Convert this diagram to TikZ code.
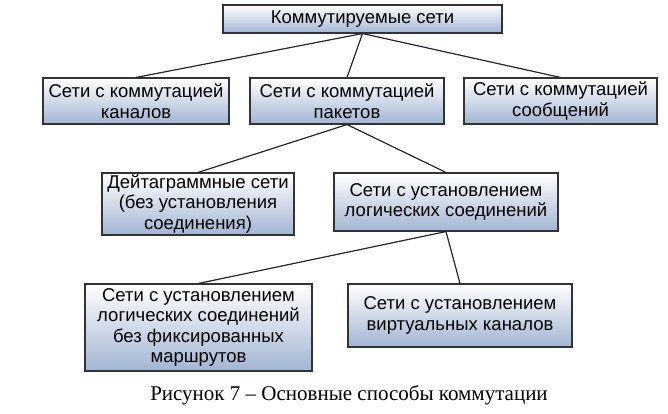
\documentclass[tikz,border=0pt]{standalone}
\usepackage{fontspec}
\setmainfont{Liberation Serif}
\setsansfont{Liberation Sans}
\usepackage{xcolor}
\usetikzlibrary{positioning, calc}
\definecolor{boxblue}{RGB}{162,181,210}
\definecolor{boxline}{RGB}{50,50,55}
\tikzset{
    netbox/.style={
        rectangle,
        draw=boxline,
        line width=1.1pt,
        top color=white,
        bottom color=boxblue,
        font=\sffamily\fontsize{18.5}{20.5}\selectfont,
        align=center,
        inner sep=0pt,
    },
    link/.style={
        line width=1.2pt,
        draw=black!85,
    },
}

\begin{document}
\begin{tikzpicture}[x=1pt, y=-1pt]
      \useasboundingbox (0,0) rectangle (668,413);

      \node[netbox, minimum width=279pt, minimum height=28pt] (sw) at (362.5,19) {Коммутируемые сети};

      \node[netbox, minimum width=186pt, minimum height=46pt] (ch) at (136,101) {Сети с коммутацией\\каналов};
      \node[netbox, minimum width=194pt, minimum height=46pt] (pk) at (347,101) {Сети с коммутацией\\пакетов};
      \node[netbox, minimum width=193pt, minimum height=46pt] (ms) at (560.5,101) {Сети с коммутацией\\сообщений};

      \node[netbox, minimum width=192pt, minimum height=62pt] (dg) at (198,204) {Дейтаграммные сети\\(без установления\\соединения)};
      \node[netbox, minimum width=224pt, minimum height=58pt] (lc) at (446,202) {Сети с установлением\\логических соединений};

      \node[netbox, minimum width=227pt, minimum height=87pt] (nf) at (198.5,327.5) {Сети с установлением\\логических соединений\\без фиксированных\\маршрутов};
      \node[netbox, minimum width=224pt, minimum height=63pt] (vc) at (460,315.5) {Сети с установлением\\виртуальных каналов};

      \node[font=\fontsize{21}{24}\selectfont] (cap) at (349,395) {Рисунок 7 – Основные способы коммутации};

      \draw[link] (sw.south) -- (ch.north);
      \draw[link] (sw.south) -- (pk.north);
      \draw[link] (sw.south) -- (ms.north);
      \draw[link] (pk.south) -- (dg.north);
      \draw[link] (pk.south) -- (lc.north);
      \draw[link] (lc.south) -- (nf.north);
      \draw[link] (lc.south) -- (vc.north);

    \end{tikzpicture}
\end{document}
